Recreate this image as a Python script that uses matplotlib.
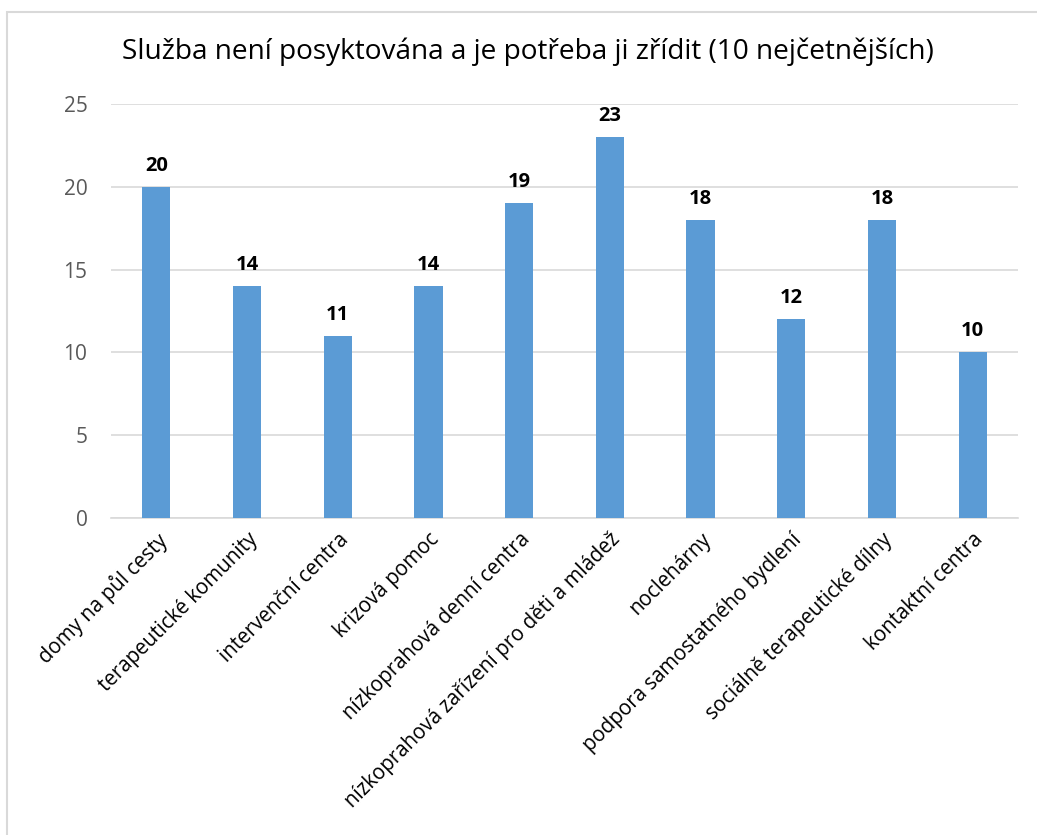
import matplotlib.pyplot as plt
from matplotlib.patches import Rectangle

# ── DATA ────────────────────────────────────────────────────────────
categories = [
    "domy na půl cesty",
    "terapeutické komunity",
    "intervenční centra",
    "krizová pomoc",
    "nízkoprahová denní centra",
    "nízkoprahová zařízení pro děti a mládež",
    "noclehárny",
    "podpora samostatného bydlení",
    "sociálně terapeutické dílny",
    "kontaktní centra",
]
values = [20, 14, 11, 14, 19, 23, 18, 12, 18, 10]
y_ticks = [0, 5, 10, 15, 20, 25]
title = "Služba není posyktována a je potřeba ji zřídit (10 nejčetnějších)"

plt.rcParams["font.family"] = ["Open Sans", "DejaVu Sans"]

W, H = 1037, 835
fig = plt.figure(figsize=(W / 100, H / 100), dpi=100)
ax = fig.add_axes([111 / W, 1 - 518 / H, (1018 - 111) / W, (518 - 104) / H])

# outer chart frame (cut off at right and bottom like the reference)
fig.patches.append(Rectangle((7 / W, -0.1), 1.2, 1 - 12 / H + 0.1,
                             transform=fig.transFigure, fill=False,
                             edgecolor="#d9d9d9", linewidth=1.5))

x = range(len(categories))
bars = ax.bar(x, values, width=0.31, color="#5b9bd5", zorder=3)

for b, v in zip(bars, values):
    ax.annotate(str(v), (b.get_x() + b.get_width() / 2, v),
                xytext=(0, 8), textcoords="offset points",
                ha="center", va="bottom", fontsize=14.5,
                fontweight="bold", color="black")

ax.set_xlim(-0.5, len(categories) - 0.5)
ax.set_ylim(0, 25)
ax.set_yticks(y_ticks)
ax.set_yticklabels([str(t) for t in y_ticks], fontsize=15, color="#595959")
ax.yaxis.grid(True, color="#d9d9d9", linewidth=1.2, zorder=0)
ax.set_axisbelow(True)

ax.set_xticks(list(x))
ax.set_xticklabels(categories, rotation=45, ha="right",
                   rotation_mode="anchor", fontsize=14.8, color="black")
ax.tick_params(axis="both", length=0)
ax.tick_params(axis="y", pad=17)
ax.tick_params(axis="x", pad=8)

for side in ["top", "right", "left"]:
    ax.spines[side].set_visible(False)
ax.spines["bottom"].set_color("#d9d9d9")
ax.spines["bottom"].set_linewidth(1.2)

fig.text(0.509, 1 - 52 / H, title, ha="center", va="center",
         fontsize=20.2, color="black")

fig.savefig("out.png", dpi=100)
